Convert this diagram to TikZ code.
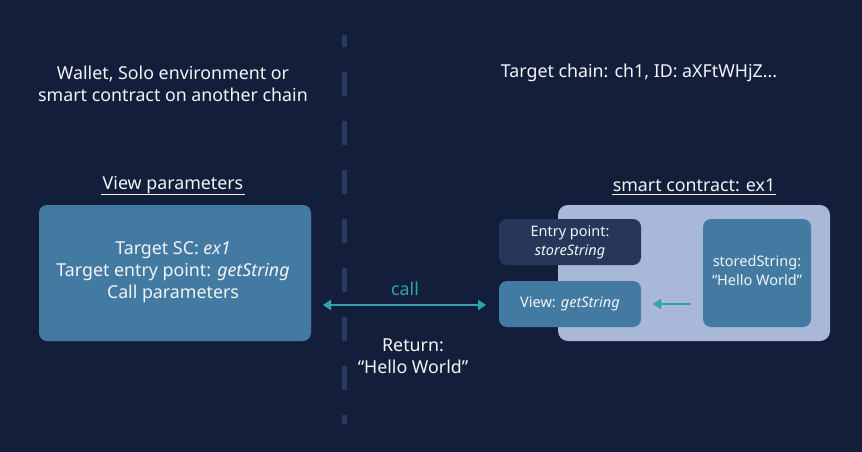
\documentclass[tikz,border=0pt]{standalone}
\usepackage{fontspec}
\setmainfont{Noto Sans}
\usetikzlibrary{arrows.meta}
\definecolor{bg}{HTML}{131F3A}
\definecolor{steel}{HTML}{427AA2}
\definecolor{pale}{HTML}{A9B8D8}
\definecolor{darkbox}{HTML}{27375A}
\definecolor{teal}{HTML}{2FA4AD}
\definecolor{divider}{HTML}{2A3A5E}
\definecolor{txt}{HTML}{F2F4F8}
\tikzset{
  big/.style={font=\fontsize{17.8}{22}\selectfont, text=txt, align=center, inner sep=0pt},
  small/.style={font=\fontsize{14.5}{19}\selectfont, text=txt, align=center, inner sep=0pt},
  card/.style={rounded corners=8pt, draw=none},
  conn/.style={draw=teal, line width=2pt, -{Triangle[length=8pt,width=10pt]}},
}
\begin{document}
\begin{tikzpicture}[x=1pt,y=-1pt]
\fill[bg] (0,0) rectangle (862,452);
\useasboundingbox (0,0) rectangle (862,452);
% divider
\draw[divider, line width=5pt, dash pattern=on 12pt off 25pt on 24pt off 25pt on 24pt off 25pt on 24pt off 25pt on 24pt off 25pt on 24pt off 25pt on 24pt off 25pt on 24pt off 25pt on 24pt off 25pt]
  (344,35) -- (344,424);
% headings
\node[big] (lefthead) at (173,84) {Wallet, Solo environment or\\smart contract on another chain};
\node[big] (righthead) at (639,73) {Target chain: ch1, ID: aXFtWHjZ...};
\node[big] (viewparams) at (173,185) {View parameters};
\draw[txt, line width=1pt] (101,194) -- (245,194);
\node[big] (sclabel) at (694,185) {smart contract: ex1};
\draw[txt, line width=1pt] (612,194) -- (776,194);
% left box
\fill[steel, card] (39,205) rectangle (311,341);
\node[big] (leftbox) at (173,272) {Target SC: \textit{ex1}\\Target entry point: \textit{getString}\\Call parameters};
\coordinate (leftedge) at (311,305);
% container
\fill[pale, rounded corners=10pt] (558,205) rectangle (830,341);
\fill[darkbox, card] (499,219) rectangle (641,265);
\node[small] (entry) at (570,242) {Entry point:\\\textit{storeString}};
\fill[steel, card] (499,281) rectangle (641,327);
\node[small] (view) at (570,304) {View: \textit{getString}};
\coordinate (viewleft) at (499,305);
\coordinate (viewright) at (641,304);
\fill[steel, card] (703,219) rectangle (811,327);
\node[small] (stored) at (757,271) {storedString:\\“Hello World”};
\coordinate (storedleft) at (703,304);
% arrows
\draw[conn, {Triangle[length=8pt,width=10pt]}-{Triangle[length=8pt,width=10pt]}] ([xshift=12pt]leftedge) -- ([xshift=-13pt]viewleft);
\draw[conn] ([xshift=-12pt]storedleft) -- ([xshift=12pt]viewright);
\node[font=\fontsize{17.8}{22}\selectfont, text=teal, inner sep=0pt] (call) at (405,289) {call};
\node[big] (ret) at (413,356) {Return:\\“Hello World”};
\end{tikzpicture}
\end{document}
